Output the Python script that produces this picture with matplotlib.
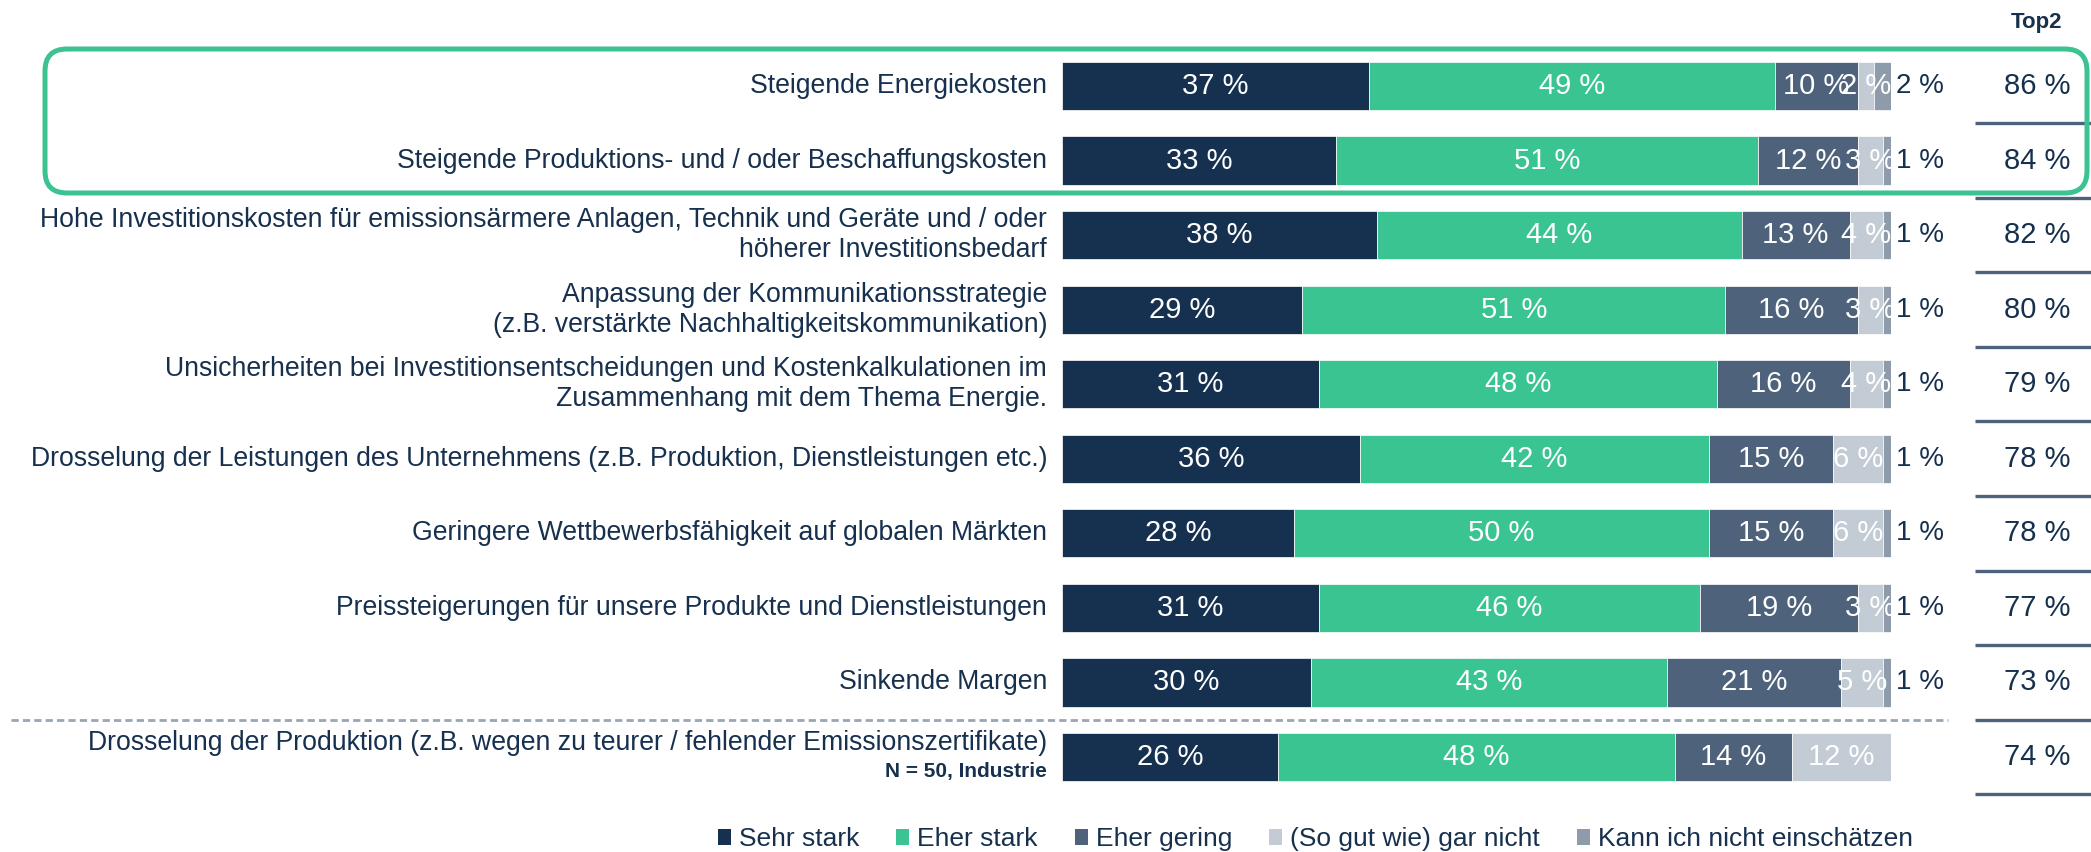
import matplotlib
matplotlib.use("Agg")
import matplotlib.pyplot as plt
from matplotlib.patches import Patch, FancyBboxPatch
from matplotlib.transforms import IdentityTransform

plt.rcParams['font.family'] = ['Liberation Sans', 'DejaVu Sans']

categories = [
    "Steigende Energiekosten",
    "Steigende Produktions- und / oder Beschaffungskosten",
    "Hohe Investitionskosten für emissionsärmere Anlagen, Technik und Geräte und / oder\nhöherer Investitionsbedarf",
    "Anpassung der Kommunikationsstrategie\n(z.B. verstärkte Nachhaltigkeitskommunikation)",
    "Unsicherheiten bei Investitionsentscheidungen und Kostenkalkulationen im\nZusammenhang mit dem Thema Energie.",
    "Drosselung der Leistungen des Unternehmens (z.B. Produktion, Dienstleistungen etc.)",
    "Geringere Wettbewerbsfähigkeit auf globalen Märkten",
    "Preissteigerungen für unsere Produkte und Dienstleistungen",
    "Sinkende Margen",
    "Drosselung der Produktion (z.B. wegen zu teurer / fehlender Emissionszertifikate)",
]
note_last = "N = 50, Industrie"

series_names = ["Sehr stark", "Eher stark", "Eher gering", "(So gut wie) gar nicht", "Kann ich nicht einschätzen"]
sehr_stark = [37, 33, 38, 29, 31, 36, 28, 31, 30, 26]
eher_stark = [49, 51, 44, 51, 48, 42, 50, 46, 43, 48]
eher_gering = [10, 12, 13, 16, 16, 15, 15, 19, 21, 14]
gar_nicht = [2, 3, 4, 3, 4, 6, 6, 3, 5, 12]
kann_nicht = [2, 1, 1, 1, 1, 1, 1, 1, 1, 0]
top2 = [86, 84, 82, 80, 79, 78, 78, 77, 73, 74]

colors = ["#15314f", "#39c492", "#4e637b", "#c3ccd4", "#8d9bab"]
navy = "#16304e"

W, H = 2091, 852
fig = plt.figure(figsize=(W / 100, H / 100), dpi=100)
ax_top, ax_bot = 48.7, 794.3
ax = fig.add_axes([1062 / W, 1 - ax_bot / H, 829 / W, (ax_bot - ax_top) / H])
ax.set_xlim(0, 100)
ax.set_ylim(9.5, -0.5)
ax.axis("off")

ys = list(range(len(categories)))
data = [sehr_stark, eher_stark, eher_gering, gar_nicht, kann_nicht]
left = [0] * len(ys)
for k, (vals, col) in enumerate(zip(data, colors)):
    ax.barh(ys, vals, left=left, height=0.645, color=col, edgecolor="white", linewidth=0.5)
    for i, v in enumerate(vals):
        if v <= 0:
            continue
        if k < 4:
            ax.text(left[i] + v / 2, ys[i], f"{v} %", ha="center", va="center",
                    color="white", fontsize=21, clip_on=False)
        else:
            ax.text(left[i] + v + 0.6, ys[i], f"{v} %", ha="left", va="center",
                    color=navy, fontsize=20, clip_on=False)
    left = [l + v for l, v in zip(left, vals)]

# category labels
for i, lab in enumerate(categories):
    if i == len(categories) - 1:
        ax.text(-1.8, ys[i] - 0.19, lab, ha="right", va="center", color=navy, fontsize=19.2)
        ax.text(-1.8, ys[i] + 0.19, note_last, ha="right", va="center", color=navy,
                fontsize=15, fontweight="bold")
    else:
        ax.text(-1.8, ys[i], lab, ha="right", va="center", color=navy, fontsize=19.2,
                linespacing=1.2)

# Top2 column
ax.text(117.6, -0.845, "Top2", ha="center", va="center", color=navy, fontsize=16,
        fontweight="bold", clip_on=False)
for i, v in enumerate(top2):
    ax.text(117.6, ys[i], f"{v} %", ha="center", va="center", color=navy, fontsize=21,
            clip_on=False)
    ax.plot([110.1, 126.0], [ys[i] + 0.5, ys[i] + 0.5], color="#4e637b", lw=2.4,
            clip_on=False, solid_capstyle="butt")

# dashed separator
ax.plot([-126.8, 106.9], [8.5, 8.5], color="#9aa6b2", lw=2.0, ls=(0, (2.6, 1.5)),
        clip_on=False)

# highlight box
box = FancyBboxPatch((45, H - 193), 2042, 144,
                     boxstyle="round,pad=0,rounding_size=22",
                     transform=IdentityTransform(), fill=False,
                     edgecolor="#3cc391", linewidth=3.6)
fig.patches.append(box)

handles = [Patch(facecolor=c, edgecolor="none") for c in colors]
fig.legend(handles, series_names, loc="lower center", bbox_to_anchor=(0.629, -0.027),
           ncol=5, frameon=False, fontsize=19, handlelength=0.5, handleheight=0.6,
           handletextpad=0.3, columnspacing=1.4, labelcolor=navy)

fig.savefig("out.png", dpi=100)
